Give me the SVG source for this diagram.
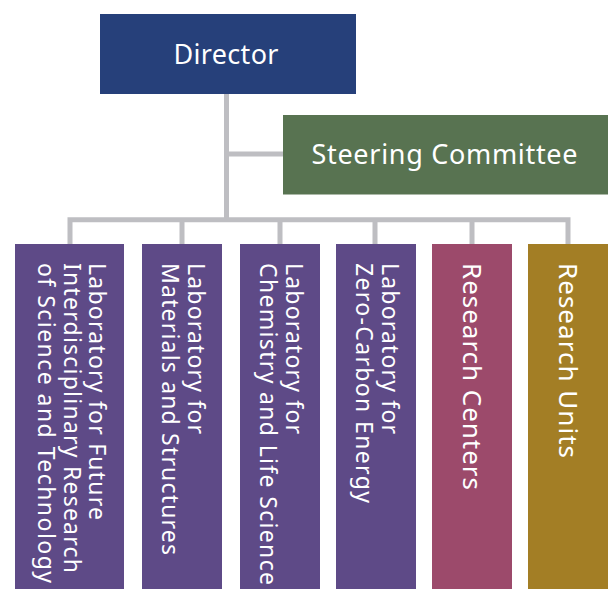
<svg xmlns="http://www.w3.org/2000/svg" width="611" height="589" viewBox="0 0 611 589">
<style>
.conn{fill:none;stroke:#BEBEC2;stroke-width:5;stroke-linejoin:miter;stroke-linecap:butt}
.t{fill:#FFFFFF;font-family:"Noto Sans","Open Sans","DejaVu Sans",sans-serif}
.h{font-size:27px;text-anchor:middle}
.v{font-size:23px}
.vr{font-size:26px}
.lab{fill:#5E4A87}
</style>
<rect width="611" height="589" fill="#FFFFFF"/>
<g id="connectors">
<path class="conn" d="M226.5,93 V219.8"/>
<path class="conn" d="M226.5,154 H284"/>
<path class="conn" d="M70,244 V219.8 H568 V244"/>
<path class="conn" d="M182,219.8 V244 M280,219.8 V244 M375,219.8 V244 M472,219.8 V244"/>
</g>
<g id="director">
<rect x="100" y="14" width="256" height="80" fill="#26407A"/>
<text class="t h" x="226" y="63.5" textLength="105" lengthAdjust="spacing">Director</text>
</g>
<g id="steering">
<rect x="283" y="115" width="325" height="79.5" fill="#587351"/>
<text class="t h" x="444.5" y="164" textLength="266" lengthAdjust="spacing">Steering Committee</text>
</g>
<g id="lab-future">
<rect class="lab" x="15" y="244" width="109" height="345"/>
<text class="t v" transform="translate(89,263) rotate(90)" textLength="257" lengthAdjust="spacing">Laboratory for Future</text>
<text class="t v" transform="translate(63.5,263) rotate(90)" textLength="310" lengthAdjust="spacing">Interdisciplinary Research</text>
<text class="t v" transform="translate(38,263) rotate(90)" textLength="320" lengthAdjust="spacing">of Science and Technology</text>
</g>
<g id="lab-materials">
<rect class="lab" x="142" y="244" width="80" height="345"/>
<text class="t v" transform="translate(187.5,263) rotate(90)" textLength="171" lengthAdjust="spacing">Laboratory for</text>
<text class="t v" transform="translate(162,263) rotate(90)" textLength="292" lengthAdjust="spacing">Materials and Structures</text>
</g>
<g id="lab-chemistry">
<rect class="lab" x="240" y="244" width="80" height="345"/>
<text class="t v" transform="translate(285.5,263) rotate(90)" textLength="171" lengthAdjust="spacing">Laboratory for</text>
<text class="t v" transform="translate(260,263) rotate(90)" textLength="322" lengthAdjust="spacing">Chemistry and Life Science</text>
</g>
<g id="lab-zero-carbon">
<rect class="lab" x="336" y="244" width="80" height="345"/>
<text class="t v" transform="translate(381.5,263) rotate(90)" textLength="171" lengthAdjust="spacing">Laboratory for</text>
<text class="t v" transform="translate(356,263) rotate(90)" textLength="240" lengthAdjust="spacing">Zero-Carbon Energy</text>
</g>
<g id="research-centers">
<rect x="432" y="244" width="80" height="345" fill="#9C4A6B"/>
<text class="t vr" transform="translate(463,263) rotate(90)" textLength="227" lengthAdjust="spacing">Research Centers</text>
</g>
<g id="research-units">
<rect x="528" y="244" width="80" height="345" fill="#A37E25"/>
<text class="t vr" transform="translate(559,263) rotate(90)" textLength="195" lengthAdjust="spacing">Research Units</text>
</g>
</svg>
